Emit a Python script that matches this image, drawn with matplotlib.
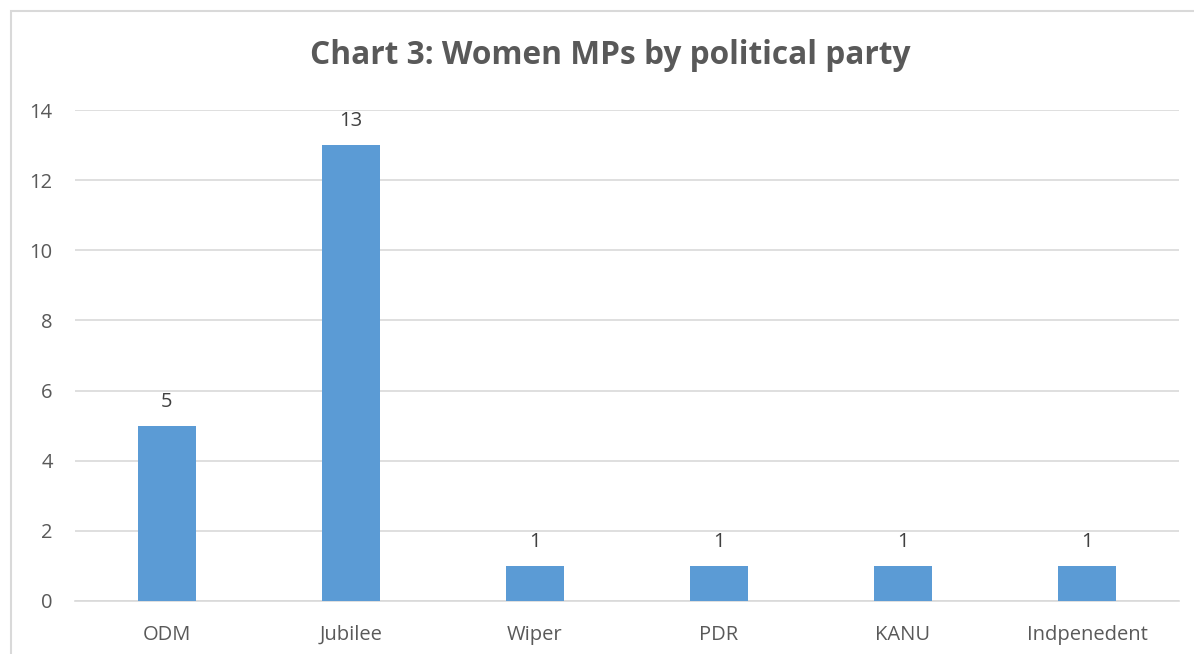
import matplotlib
matplotlib.use("Agg")
import matplotlib.pyplot as plt
from matplotlib.patches import Rectangle

categories = ["ODM", "Jubilee", "Wiper", "PDR", "KANU", "Indpenedent"]
values = [5, 13, 1, 1, 1, 1]
yticks = [0, 2, 4, 6, 8, 10, 12, 14]

W, H = 1194, 654
fig = plt.figure(figsize=(W / 100, H / 100), dpi=100)
fig.patch.set_facecolor("white")

# chart border (partially cropped at right/bottom)
fig.patches.append(Rectangle((11 / W, -0.05), 1.2, 1 - 11 / H + 0.05,
                             transform=fig.transFigure, fill=False,
                             edgecolor="#d9d9d9", linewidth=1.5))

ax = fig.add_axes([75 / W, 53 / H, (1179 - 75) / W, (601 - 110) / H])
x = list(range(len(categories)))
bars = ax.bar(x, values, width=0.315, color="#5b9bd5", zorder=3)
ax.set_xlim(-0.5, len(categories) - 0.5)
ax.set_ylim(0, 14)
ax.set_yticks(yticks)
ax.set_xticks(x)
ax.set_xticklabels(categories)
ax.grid(axis="y", color="#d9d9d9", linewidth=1.2, zorder=0)
for s in ["top", "right", "left"]:
    ax.spines[s].set_visible(False)
ax.spines["bottom"].set_color("#d9d9d9")
ax.spines["bottom"].set_linewidth(1.2)
ax.tick_params(axis="both", length=0, labelsize=14.5, labelcolor="#595959")
ax.tick_params(axis="x", pad=17)
ax.tick_params(axis="y", pad=16)
for t in ax.get_xticklabels() + ax.get_yticklabels():
    t.set_fontfamily("Open Sans")

for xi, v in zip(x, values):
    ax.annotate(str(v), (xi, v), xytext=(0, 10), textcoords="offset points",
                ha="center", va="bottom", fontsize=14.5, color="#404040",
                family="Open Sans")

fig.text(610 / W, 1 - 56 / H, "Chart 3: Women MPs by political party",
         ha="center", va="center", fontsize=22.8, fontweight="bold",
         color="#595959", family="Open Sans")

fig.savefig("out.png", dpi=100)
